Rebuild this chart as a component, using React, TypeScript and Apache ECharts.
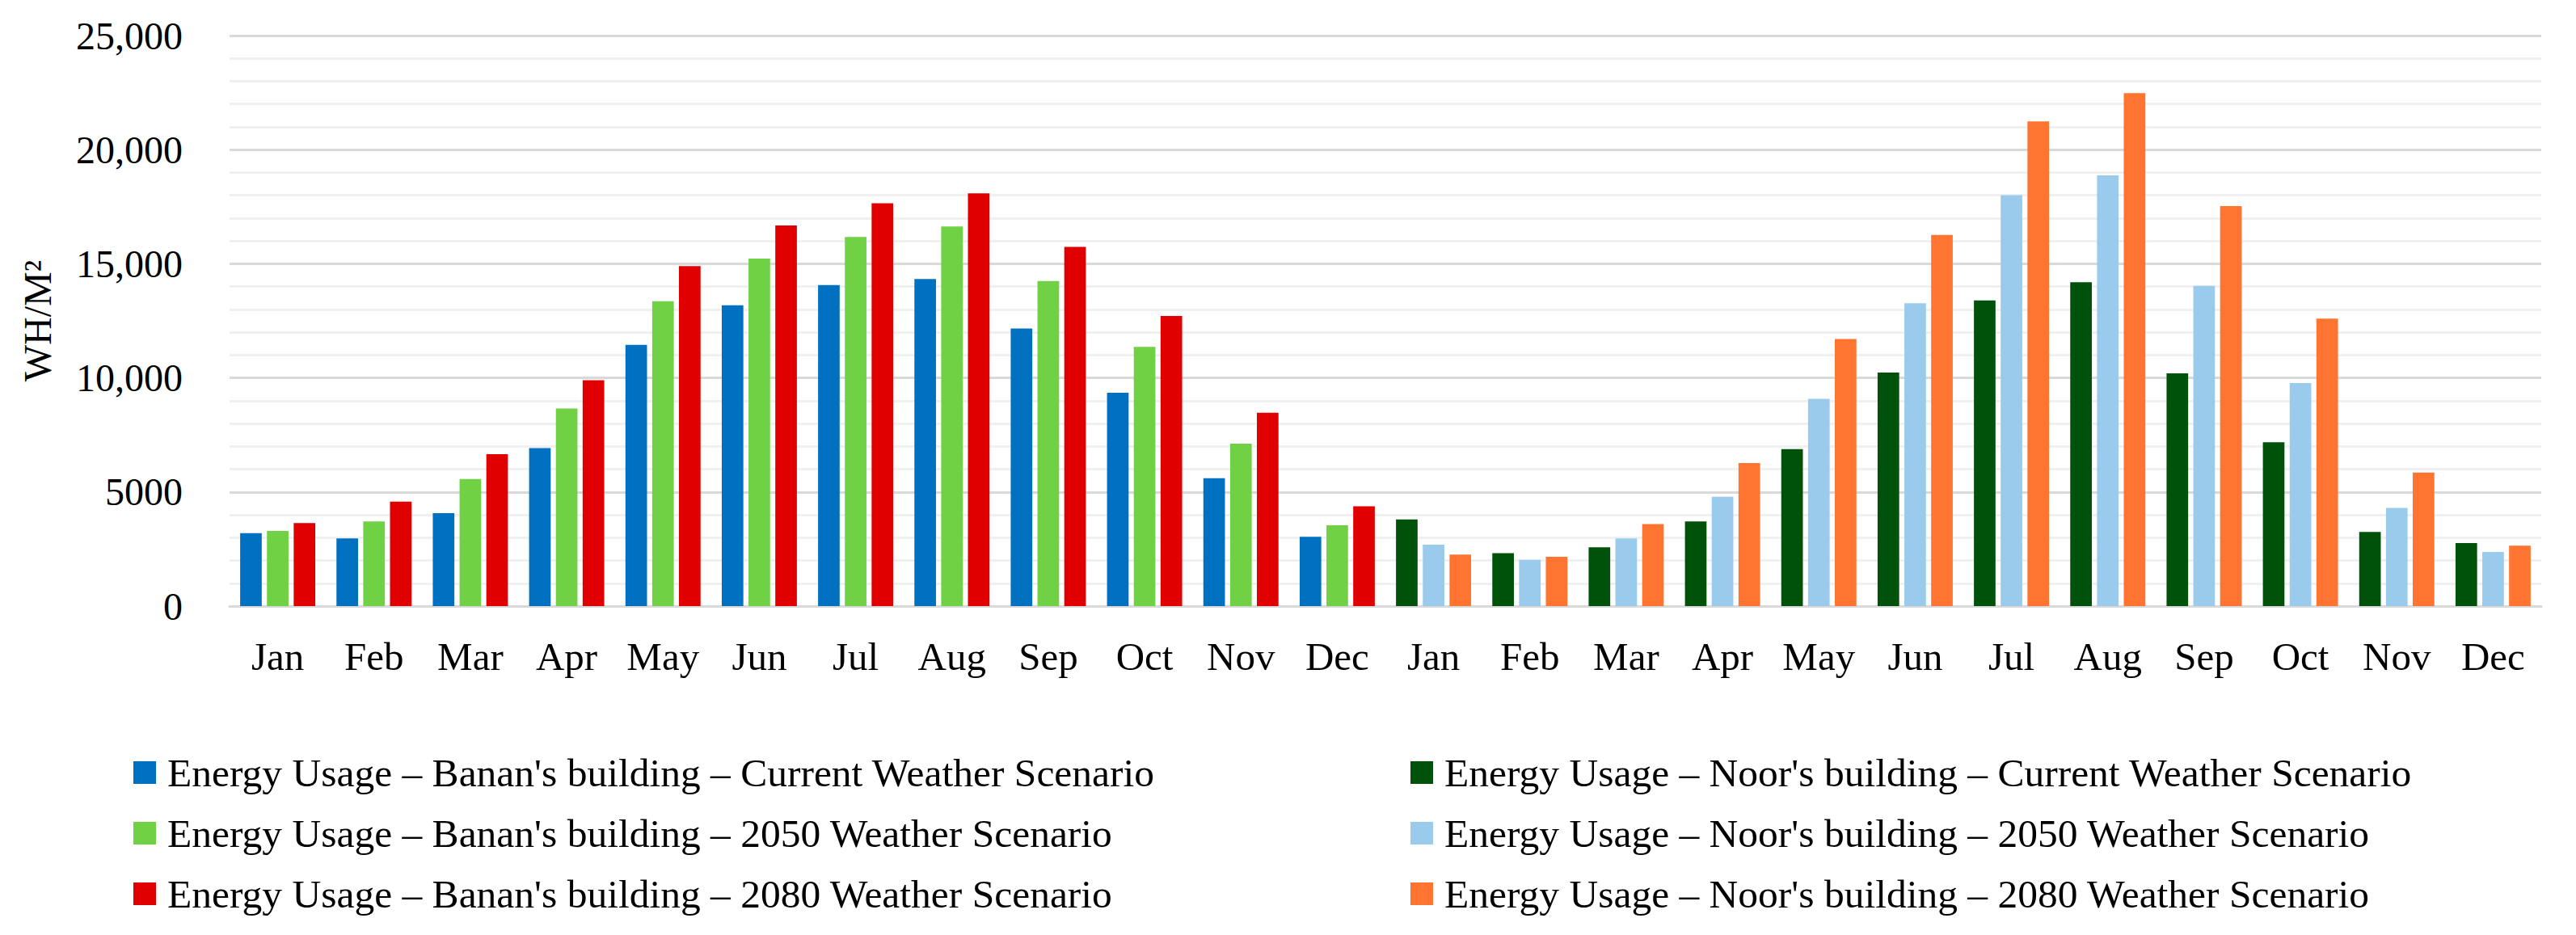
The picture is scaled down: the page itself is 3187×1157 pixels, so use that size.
import React, { useEffect, useRef } from "react";
import * as echarts from "echarts";

const MONTHS = ["Jan", "Feb", "Mar", "Apr", "May", "Jun", "Jul", "Aug", "Sep", "Oct", "Nov", "Dec"];

const bananCurrent = [3200, 2970, 4070, 6920, 11450, 13180, 14070, 14330, 12160, 9350, 5600, 3040];
const banan2050 = [3290, 3710, 5570, 8660, 13360, 15230, 16170, 16630, 14240, 11360, 7120, 3540];
const banan2080 = [3640, 4580, 6660, 9900, 14900, 16680, 17650, 18090, 15740, 12710, 8470, 4370];
const noorCurrent = [3800, 2320, 2580, 3710, 6880, 10230, 13390, 14190, 10200, 7180, 3250, 2760];
const noor2050 = [2690, 2030, 2970, 4790, 9080, 13270, 18010, 18870, 14030, 9770, 4300, 2370];
const noor2080 = [2260, 2160, 3590, 6270, 11700, 16260, 21240, 22480, 17530, 12600, 5850, 2650];

const seriesNames = [
  "Energy Usage – Banan's building – Current Weather Scenario",
  "Energy Usage – Banan's building – 2050 Weather Scenario",
  "Energy Usage – Banan's building – 2080 Weather Scenario",
  "Energy Usage – Noor's building – Current Weather Scenario",
  "Energy Usage – Noor's building – 2050 Weather Scenario",
  "Energy Usage – Noor's building – 2080 Weather Scenario",
];
const seriesColors = ["#0070C0", "#70D144", "#E10000", "#00520A", "#9ACBEC", "#FF7430"];

const FONT = "'Liberation Serif', 'Times New Roman', serif";
const FS = 48;

export default function App() {
  const ref = useRef<HTMLDivElement>(null);
  useEffect(() => {
    if (!ref.current) return;
    const chart = echarts.init(ref.current, null, { renderer: "svg" });
    const categories = [...MONTHS.map((m) => "B-" + m), ...MONTHS.map((m) => "N-" + m)];
    const empty = MONTHS.map(() => null);
    const seriesData = [
      [...bananCurrent, ...empty],
      [...banan2050, ...empty],
      [...banan2080, ...empty],
      [...empty, ...noorCurrent],
      [...empty, ...noor2050],
      [...empty, ...noor2080],
    ];
    const stacks = ["cur", "s2050", "s2080", "cur", "s2050", "s2080"];
    const legendCommon = {
      orient: "vertical",
      icon: "rect",
      itemWidth: 28,
      itemHeight: 28,
      itemGap: 25,
      top: 926,
      textStyle: { fontSize: 49.5, fontFamily: FONT, color: "#000", padding: [0, 0, 0, 9] },
      selectedMode: false,
    };
    chart.setOption({
      animation: false,
      backgroundColor: "#fff",
      grid: { left: 284, right: 43, top: 44, bottom: 407, containLabel: false },
      legend: [
        { ...legendCommon, left: 160, data: seriesNames.slice(0, 3) },
        { ...legendCommon, left: 1740, data: seriesNames.slice(3, 6) },
      ],
      xAxis: {
        type: "category",
        data: categories,
        axisTick: { show: false },
        axisLine: { show: true, lineStyle: { color: "#d9d9d9", width: 3 } },
        axisLabel: {
          interval: 0,
          margin: 38,
          fontSize: 49,
          fontFamily: FONT,
          color: "#000",
          formatter: (v: string) => v.slice(2),
        },
      },
      yAxis: {
        type: "value",
        min: 0,
        max: 25000,
        interval: 5000,
        name: "WH/M²",
        nameLocation: "middle",
        nameGap: 214,
        nameTextStyle: { fontSize: FS, fontFamily: FONT, color: "#000" },
        axisLine: { show: false },
        axisTick: { show: false },
        minorTick: { show: false, splitNumber: 5 },
        splitLine: { show: true, lineStyle: { color: "#d9d9d9", width: 3 } },
        minorSplitLine: { show: true, lineStyle: { color: "#f0f0f0", width: 3 } },
        axisLabel: {
          margin: 58,
          fontSize: FS,
          fontFamily: FONT,
          color: "#000",
          formatter: (v: number) => (v >= 10000 ? v.toLocaleString("en-US") : String(v)),
        },
      },
      series: seriesNames.map((name, i) => ({
        name,
        type: "bar",
        stack: stacks[i],
        data: seriesData[i],
        itemStyle: { color: seriesColors[i] },
        barCategoryGap: "22%",
        barGap: "24%",
      })),
    });
    return () => chart.dispose();
  }, []);
  return (
    <div
      ref={ref}
      style={{ position: "absolute", left: 0, top: 0, width: 3187, height: 1157, background: "#fff" }}
    />
  );
}
